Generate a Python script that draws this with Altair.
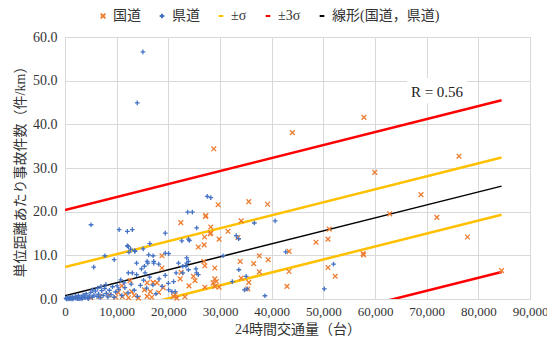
import altair as alt
import pandas as pd

# ---- data ----
kokudo_x = [44000, 57850, 76250, 59960, 68900, 62840, 71970, 77900, 84500, 57700, 57800,
            35570, 39210, 51150, 50900, 48580, 43360, 37610, 39330, 36530, 37610, 43360,
            50900, 52300, 35570, 42970, 35380, 34100, 33470, 33910, 28800, 29640, 27260,
            27200, 22410, 28220, 31550, 28220, 27010, 26940, 28100, 29830, 25800, 18770,
            18770, 26880, 27070, 28990, 24850, 25160, 15900, 17050, 17820, 22290, 21320,
            21650, 18140, 28990, 29310, 28670, 27070, 22470, 29830, 28990, 15900, 16530,
            15380, 11100, 11700, 12300, 12900, 13400, 21010, 5000, 6800, 8500, 9800,
            10300, 14200, 16800, 19000, 24000, 23200, 34100, 12600, 11000]
kokudo_y = [38.1, 41.6, 32.7, 29.0, 23.9, 19.5, 18.7, 14.2, 6.5, 10.4, 10.1,
            22.3, 21.7, 16.0, 13.7, 13.0, 10.9, 9.9, 9.0, 8.1, 6.2, 6.3,
            7.2, 5.2, 3.8, 2.9, 2.3, 17.9, 14.1, 8.6, 34.4, 21.6, 19.1,
            18.9, 17.5, 16.5, 15.5, 15.1, 14.2, 12.4, 14.9, 13.7, 11.9, 9.9,
            7.1, 8.6, 7.6, 7.1, 5.2, 4.2, 3.7, 3.8, 3.7, 4.6, 1.0,
            0.2, 1.5, 4.6, 4.0, 3.7, 2.7, 6.1, 2.7, 2.9, 0.6, 1.7,
            2.1, 0.5, 1.2, 0.3, 1.7, 0.8, 0.6, 0.3, 0.6, 0.9, 0.4,
            1.5, 0.2, 0.4, 2.6, 3.0, 0.5, 4.8, 4.2, 3.0]

kendo_x = [15080, 13980, 5040, 10480, 12070, 13030, 19410, 27530, 28220, 23750, 24650,
           25480, 36650, 40670, 42720, 51980, 50190, 38700, 35060, 35250, 33650, 33140,
           33600, 30590, 22610, 23890, 24080, 17050, 19410, 20060, 17180, 18140, 21970,
           23560, 23890, 23560, 22800, 23400, 21510, 22800, 23890, 25350, 25480, 25800,
           21020, 20060, 20690, 21320, 32380, 34730, 7720, 9520, 12070, 13470, 12260,
           12710, 13540, 15130, 16410, 12390, 5560, 13850, 15380, 16030, 17180, 12260,
           13030, 13850, 14800, 15500, 10790, 11440, 7910, 6950, 6320, 5360, 16200, 15900,
           200, 500, 800, 1100, 1400, 1700, 2000, 2300, 2600, 2900, 3200, 3500, 3800,
           4100, 4400, 4700, 5000, 5300, 5600, 5900, 6200, 6500, 6800, 7100, 7400, 7700,
           8000, 8300, 8600, 8900, 9200, 9500, 9800, 10100, 10400, 11000, 11600, 12200,
           12800, 13400, 14000, 14600, 15200, 15800, 16400, 17000, 17600, 18200, 18800,
           19400, 20000, 300, 900, 1500, 2100, 2700, 3300, 3900, 4500, 600, 1200, 2400]
kendo_y = [56.6, 44.9, 17.0, 15.9, 15.5, 15.9, 15.1, 23.5, 23.2, 19.9, 19.9,
           16.3, 17.4, 17.9, 10.8, 8.0, 2.3, 0.75, 5.2, 2.3, 6.7, 14.5,
           13.8, 9.9, 13.3, 13.7, 13.4, 9.9, 10.5, 10.4, 8.6, 8.0, 8.2,
           8.2, 8.6, 9.4, 7.5, 7.5, 6.0, 6.0, 6.7, 6.9, 6.0, 5.6,
           4.0, 2.1, 1.7, 1.7, 4.0, 2.1, 9.9, 9.0, 12.2, 11.1, 12.0,
           11.4, 10.9, 11.5, 12.7, 10.7, 7.3, 8.2, 7.5, 8.2, 8.2, 6.0,
           6.0, 5.6, 6.9, 6.0, 4.4, 3.7, 3.3, 2.9, 2.5, 2.1, 10.1, 8.6,
           0.2, 0.4, 0.1, 0.3, 0.5, 0.2, 0.6, 0.3, 0.8, 0.1, 0.4, 0.9, 0.5,
           1.2, 0.3, 0.7, 1.5, 0.4, 0.9, 1.8, 0.6, 1.1, 0.3, 1.9, 0.8, 2.4,
           1.3, 0.5, 2.0, 1.0, 2.8, 0.4, 1.6, 3.0, 2.2, 0.8, 2.6, 1.4,
           3.4, 2.0, 0.6, 3.1, 4.3, 2.5, 5.0, 3.2, 1.2, 4.6, 2.9,
           5.4, 3.6, 0.0, 0.1, 0.0, 0.2, 0.1, 0.0, 0.3, 0.1, 0.0, 0.0, 0.1]

series_names = ["国道", "県道", "±σ", "±3σ", "線形(国道，県道)"]
series_colors = ["#ED7D31", "#4472C4", "#FFC000", "#FF0000", "#000000"]
series_shapes = ["M-1,-1L1,1M-1,1L1,-1", "M-1,0L1,0M0,-1L0,1", "stroke", "stroke", "stroke"]
series_sizes = [22, 22, 380, 380, 380]

# regression parameters
intercept = 0.75
slope = 0.000297
sigma = 6.55
x_range = [0, 84500]
r_label = "R = 0.56"
r_pos = (72000, 47.4)

FONT = "'Liberation Serif', 'Times New Roman', 'Noto Sans CJK JP', serif"

# ---- tables ----
pts = pd.DataFrame({
    "x": kokudo_x + kendo_x,
    "y": kokudo_y + kendo_y,
    "s": ["国道"] * len(kokudo_x) + ["県道"] * len(kendo_x),
})

rows = []
for name, k, part in [("±σ", 1, "u"), ("±σ", -1, "l"), ("±3σ", 3, "u"), ("±3σ", -3, "l"),
                      ("線形(国道，県道)", 0, "c")]:
    for xv in x_range:
        rows.append({"x": xv, "y": intercept + slope * xv + k * sigma, "s": name, "part": part})
lines = pd.DataFrame(rows)
band = lines[lines["s"] != "線形(国道，県道)"]
reg = lines[lines["s"] == "線形(国道，県道)"]

xs = alt.Scale(domain=[0, 90000], nice=False)
ys = alt.Scale(domain=[0, 60], nice=False)
cs = alt.Scale(domain=series_names, range=series_colors)

X = alt.X("x:Q", scale=xs, title="24時間交通量（台）",
          axis=alt.Axis(values=list(range(0, 90001, 10000)), format=",.0f",
                        labelOverlap=False, labelFlush=False, labelFontSize=13))
Y = alt.Y("y:Q", scale=ys, title="単位距離あたり事故件数（件/km）",
          axis=alt.Axis(values=list(range(0, 61, 10)), format=".1f"))

legend = alt.Legend(orient="none", direction="horizontal", legendX=31, legendY=-28)

points = alt.Chart(pts).mark_point(filled=False, strokeWidth=1.3, opacity=1).encode(
    x=X, y=Y,
    color=alt.Color("s:N", scale=cs, title=None, legend=legend),
    shape=alt.Shape("s:N", scale=alt.Scale(domain=series_names, range=series_shapes), title=None, legend=legend),
    size=alt.Size("s:N", scale=alt.Scale(domain=series_names, range=series_sizes), title=None, legend=legend),
)

band_lines = alt.Chart(band).mark_line(strokeWidth=2.5, clip=True).encode(
    x=X, y=Y, detail="part:N",
    color=alt.Color("s:N", scale=cs, title=None, legend=legend),
)
reg_line = alt.Chart(reg).mark_line(strokeWidth=1.5, clip=True).encode(
    x=X, y=Y,
    color=alt.Color("s:N", scale=cs, title=None, legend=legend),
)

ann = pd.DataFrame({"x": [r_pos[0]], "y": [r_pos[1]], "t": [r_label]})
ann_box = alt.Chart(ann).mark_rect(color="white").encode(
    x=alt.X("x1:Q", scale=xs), x2="x2:Q",
    y=alt.Y("y1:Q", scale=ys), y2="y2:Q",
).transform_calculate(x1="datum.x - 5800", x2="datum.x + 5800",
                      y1="datum.y - 2.6", y2="datum.y + 3.2")
ann_text = alt.Chart(ann).mark_text(font=FONT, fontSize=15, color="#222222").encode(
    x=alt.X("x:Q", scale=xs), y=alt.Y("y:Q", scale=ys), text="t:N")

chart = alt.layer(ann_box, band_lines, reg_line, points, ann_text).properties(
    width=465, height=262,
    autosize=alt.AutoSizeParams(type="none"),
    padding={"left": 57, "top": 29, "right": 17, "bottom": 46},
).configure_view(stroke="#D9D9D9").configure_axis(
    grid=True, gridColor="#D9D9D9", domain=False, ticks=False,
    labelFont=FONT, labelFontSize=14, labelColor="#333333",
    titleFont=FONT, titleFontSize=14, titleFontWeight="normal", titleColor="#333333",
).configure_axisY(labelPadding=8, titlePadding=5).configure_axisX(labelPadding=6, titlePadding=4
).configure_legend(
    labelFont=FONT, labelFontSize=14,
    labelColor="#333333", symbolStrokeWidth=2, columnPadding=14, labelOffset=3,
    padding=0,
)

chart.save("out.html", embed_options={"renderer": "svg", "actions": False})
